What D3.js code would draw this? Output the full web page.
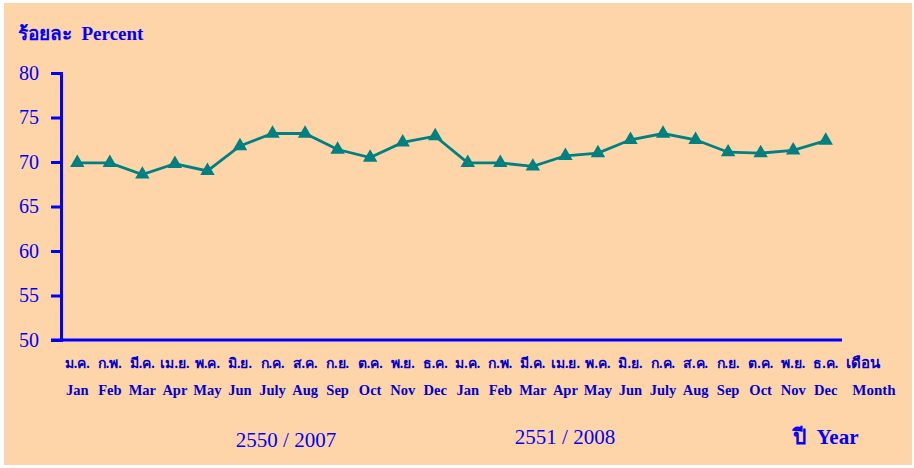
<!DOCTYPE html>
<html>
<head>
<meta charset="utf-8">
<script src="https://cdn.jsdelivr.net/npm/d3@7"></script>
<style>
  body { margin: 0; background: #fff; }
  svg { display: block; }
</style>
</head>
<body>
<script>
// data
var thaiMonths = ["ม.ค.", "ก.พ.", "มี.ค.", "เม.ย.", "พ.ค.", "มิ.ย.", "ก.ค.", "ส.ค.", "ก.ย.", "ต.ค.", "พ.ย.", "ธ.ค."];
var engMonths = ["Jan", "Feb", "Mar", "Apr", "May", "Jun", "July", "Aug", "Sep", "Oct", "Nov", "Dec"];
var years = ["2550 / 2007", "2551 / 2008"];
var values2007 = [69.9, 69.9, 68.6, 69.8, 69.0, 71.8, 73.2, 73.2, 71.4, 70.5, 72.2, 72.9];
var values2008 = [69.9, 69.9, 69.5, 70.7, 71.0, 72.5, 73.2, 72.5, 71.1, 71.0, 71.3, 72.4];
var yTicks = [50, 55, 60, 65, 70, 75, 80];

var width = 914, height = 468;
var margin = {top: 73, right: 72, bottom: 128, left: 61};

var data = [];
values2007.forEach(function(v, i) { data.push({key: "a" + i, m: i, value: v}); });
values2008.forEach(function(v, i) { data.push({key: "b" + i, m: i, value: v}); });

var svg = d3.select("body").append("svg")
    .attr("width", width)
    .attr("height", height);

svg.append("rect")
    .attr("x", 4).attr("y", 3)
    .attr("width", 908).attr("height", 462)
    .attr("fill", "#fed5a8");

var x = d3.scaleBand()
    .domain(data.map(function(d) { return d.key; }))
    .range([margin.left, width - margin.right]);

var y = d3.scaleLinear()
    .domain([50, 80])
    .range([height - margin.bottom, margin.top]);

var blue = "#0000ff";
var dark = "#0000d0";
var serif = "'Liberation Serif', 'Times New Roman', 'DejaVu Serif', serif";

// y axis
var yAxis = svg.append("g")
    .attr("transform", "translate(" + margin.left + ",0)")
    .call(d3.axisLeft(y).tickValues(yTicks).tickSize(10).tickPadding(12));
yAxis.select(".domain").attr("stroke", blue).attr("stroke-width", 3);
yAxis.selectAll(".tick line").attr("stroke", blue).attr("stroke-width", 3);
yAxis.selectAll(".tick text")
    .attr("fill", blue)
    .style("font-family", serif)
    .style("font-size", "20px");

// x axis line
svg.append("line")
    .attr("x1", margin.left - 10).attr("x2", width - margin.right)
    .attr("y1", y(50)).attr("y2", y(50))
    .attr("stroke", blue).attr("stroke-width", 3);

// month labels
svg.selectAll(".thai")
    .data(data)
    .enter().append("text")
    .attr("class", "thai")
    .attr("x", function(d) { return x(d.key) + x.bandwidth() / 2; })
    .attr("y", 368)
    .attr("text-anchor", "middle")
    .attr("fill", dark)
    .style("font-family", serif)
    .style("font-weight", "bold")
    .style("font-size", "14px")
    .text(function(d) { return thaiMonths[d.m]; });

svg.selectAll(".eng")
    .data(data)
    .enter().append("text")
    .attr("class", "eng")
    .attr("x", function(d) { return x(d.key) + x.bandwidth() / 2; })
    .attr("y", 395)
    .attr("text-anchor", "middle")
    .attr("fill", dark)
    .style("font-family", serif)
    .style("font-weight", "bold")
    .style("font-size", "14.5px")
    .text(function(d) { return engMonths[d.m]; });

svg.append("text")
    .attr("x", 863).attr("y", 368)
    .attr("text-anchor", "middle")
    .attr("fill", dark)
    .style("font-family", serif).style("font-weight", "bold").style("font-size", "15px")
    .text("เดือน");
svg.append("text")
    .attr("x", 874).attr("y", 395)
    .attr("text-anchor", "middle")
    .attr("fill", dark)
    .style("font-family", serif).style("font-weight", "bold").style("font-size", "15px")
    .text("Month");

// year labels
svg.append("text")
    .attr("x", 286).attr("y", 447)
    .attr("text-anchor", "middle")
    .attr("fill", blue)
    .style("font-family", serif).style("font-size", "21px")
    .text(years[0]);
svg.append("text")
    .attr("x", 565).attr("y", 444)
    .attr("text-anchor", "middle")
    .attr("fill", blue)
    .style("font-family", serif).style("font-size", "21px")
    .text(years[1]);
svg.append("text")
    .attr("x", 793).attr("y", 444)
    .attr("fill", blue)
    .style("font-family", serif).style("font-weight", "bold").style("font-size", "21px")
    .style("white-space", "pre")
    .text("ปี  Year");

// y title
svg.append("text")
    .attr("x", 18).attr("y", 40)
    .attr("fill", blue)
    .style("font-family", serif).style("font-weight", "bold").style("font-size", "19px")
    .style("white-space", "pre")
    .text("ร้อยละ  Percent");

// line
var line = d3.line()
    .x(function(d) { return x(d.key) + x.bandwidth() / 2; })
    .y(function(d) { return y(d.value); });

svg.append("path")
    .datum(data)
    .attr("fill", "none")
    .attr("stroke", "#008080")
    .attr("stroke-width", 2.8)
    .attr("d", line);

svg.selectAll(".dot")
    .data(data)
    .enter().append("path")
    .attr("class", "dot")
    .attr("d", d3.symbol().type(d3.symbolTriangle).size(90))
    .attr("transform", function(d) {
        return "translate(" + (x(d.key) + x.bandwidth() / 2) + "," + y(d.value) + ")";
    })
    .attr("fill", "#008080");
</script>
</body>
</html>
